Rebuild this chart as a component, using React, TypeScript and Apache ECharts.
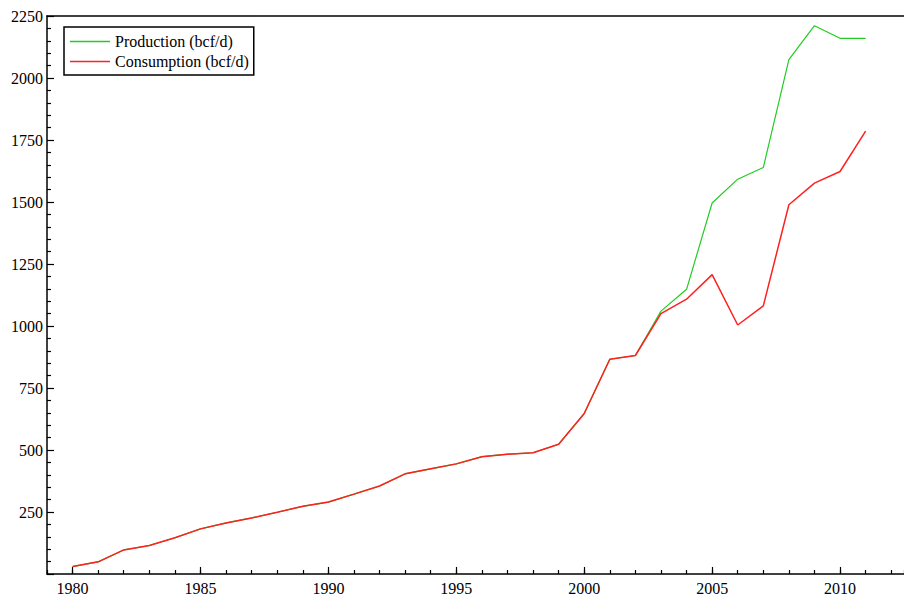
import React, { useEffect, useRef } from "react";
import * as echarts from "echarts";

const years = [1980,1981,1982,1983,1984,1985,1986,1987,1988,1989,1990,1991,1992,1993,1994,1995,1996,1997,1998,1999,2000,2001,2002,2003,2004,2005,2006,2007,2008,2009,2010,2011];
const consumption = [30,49,97,115,146,182,206,226,249,273,290,322,355,404,424,444,473,483,489,523,647,866,881,1050,1108,1207,1004,1081,1489,1576,1623,1786];
const production = [30,49,97,115,146,182,206,226,249,273,290,322,355,404,424,444,473,483,489,523,647,866,881,1060,1148,1496,1592,1639,2074,2211,2160,2160];
const majorYears = [1980,1985,1990,1995,2000,2005,2010];
const yTicks = [250,500,750,1000,1250,1500,1750,2000,2250];

const FONT = "'Liberation Serif', 'Times New Roman', serif";

export default function App() {
  const ref = useRef<HTMLDivElement>(null);
  useEffect(() => {
    if (!ref.current) return;
    const chart = echarts.init(ref.current, undefined, { renderer: "svg" });
    const axisLine = { show: true, lineStyle: { color: "#000", width: 1.5 } };
    chart.setOption({
      animation: false,
      backgroundColor: "#fff",
      grid: { left: 47, top: 16, right: 0, bottom: 20, containLabel: false },
      legend: {
        orient: "vertical",
        left: 64,
        top: 27,
        padding: [5, 5, 4, 6],
        itemGap: 1,
        itemWidth: 40,
        itemHeight: 1.3,
        icon: "rect",
        borderColor: "#000",
        borderWidth: 1.5,
        backgroundColor: "#fff",
        textStyle: { fontFamily: FONT, fontSize: 16, lineHeight: 19, color: "#000", padding: [0, 0, 0, 0] },
        data: ["Production (bcf/d)", "Consumption (bcf/d)"],
      },
      xAxis: [
        {
          type: "value",
          min: 1979,
          max: 2012.5,
          interval: 1,
          axisLine,
          axisTick: { show: true, inside: true, length: 4, lineStyle: { color: "#000", width: 1.2 } },
          axisLabel: { show: false },
          splitLine: { show: false },
        },
        {
          type: "value",
          min: 1979,
          max: 2012.5,
          position: "bottom",
          axisLine: { show: false },
          axisTick: { show: true, inside: true, length: 7, customValues: majorYears, lineStyle: { color: "#000", width: 1.2 } },
          axisLabel: {
            show: true,
            customValues: majorYears,
            margin: 6,
            fontFamily: FONT,
            fontSize: 16,
            color: "#000",
            formatter: (v: number) => String(v),
          },
          splitLine: { show: false },
        },
        {
          type: "value",
          min: 1979,
          max: 2012.5,
          position: "top",
          axisLine,
          axisTick: { show: false },
          axisLabel: { show: false },
          splitLine: { show: false },
        },
      ],
      yAxis: {
        type: "value",
        min: 0,
        max: 2250,
        interval: 250,
        axisLine,
        axisTick: { show: true, inside: true, length: 7, lineStyle: { color: "#000", width: 1.2 } },
        minorTick: { show: true, splitNumber: 5, length: 4, lineStyle: { color: "#000", width: 1.2 } },
        axisLabel: {
          margin: 4,
          fontFamily: FONT,
          fontSize: 16,
          color: "#000",
          formatter: (v: number) => (yTicks.indexOf(v) >= 0 ? String(v) : ""),
        },
        splitLine: { show: false },
        minorSplitLine: { show: false },
      },
      series: [
        {
          name: "Production (bcf/d)",
          type: "line",
          xAxisIndex: 0,
          symbol: "none",
          data: years.map((y, i) => [y, production[i]]),
          lineStyle: { color: "#22cc22", width: 1.2 },
          itemStyle: { color: "#22cc22" },
        },
        {
          name: "Consumption (bcf/d)",
          type: "line",
          xAxisIndex: 0,
          symbol: "none",
          data: years.map((y, i) => [y, consumption[i]]),
          lineStyle: { color: "#ff2020", width: 1.5 },
          itemStyle: { color: "#ff2020" },
        },
      ],
    });
    return () => chart.dispose();
  }, []);
  return (
    <div
      ref={ref}
      style={{ position: "fixed", left: 0, top: 0, width: 904, height: 596, background: "#fff" }}
    />
  );
}
